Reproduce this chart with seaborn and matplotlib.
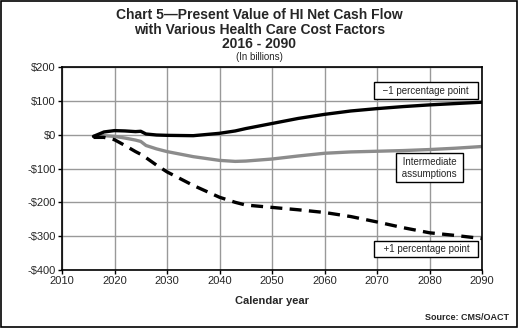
import matplotlib
matplotlib.use("Agg")
import matplotlib.pyplot as plt
import seaborn as sns
import pandas as pd
from matplotlib.patches import Rectangle

years = [2016, 2018, 2020, 2022, 2024, 2025, 2026, 2028, 2030, 2035, 2040, 2043, 2045,
         2050, 2055, 2060, 2065, 2070, 2075, 2080, 2085, 2090]
minus_one = [-5, 8, 12, 11, 9, 10, 2, -1, -2, -3, 4, 11, 18, 33, 48, 60, 70, 77, 83, 88, 92, 96]
intermediate = [-5, -3, -5, -10, -16, -20, -32, -42, -50, -65, -76, -79, -78, -72, -63, -55,
                -51, -49, -47, -44, -40, -35]
plus_one = [-8, -8, -15, -32, -50, -58, -68, -90, -110, -150, -185, -200, -208, -215, -222,
            -230, -242, -258, -275, -290, -298, -307]

x_ticks = [2010, 2020, 2030, 2040, 2050, 2060, 2070, 2080, 2090]
y_ticks = [200, 100, 0, -100, -200, -300, -400]
y_tick_labels = ["$200", "$100", "$0", "-$100", "-$200", "-$300", "-$400"]

sns.set_style("white")
plt.rcParams["font.family"] = ["Liberation Sans", "DejaVu Sans"]

fig = plt.figure(figsize=(5.19, 3.28), dpi=100)
ax = fig.add_axes([62/519, 58/328, 420/519, 203/328])

df = pd.DataFrame({"year": years, "m1": minus_one, "mid": intermediate, "p1": plus_one})
sns.lineplot(data=df, x="year", y="mid", ax=ax, color="#8c8c8c", lw=2.4)
sns.lineplot(data=df, x="year", y="p1", ax=ax, color="black", lw=2.4)
ax.lines[-1].set_dashes((3.6, 2.2))
sns.lineplot(data=df, x="year", y="m1", ax=ax, color="black", lw=2.4)

ax.set_xlim(2010, 2090)
ax.set_ylim(-400, 200)
ax.set_xticks(x_ticks)
ax.set_yticks(y_ticks)
ax.set_yticklabels(y_tick_labels)
ax.tick_params(axis="both", labelsize=8, length=3, width=1, color="black", direction="out",
               bottom=True, left=True, pad=1.5)
ax.grid(True, color="#999999", lw=1)
for s in ax.spines.values():
    s.set_color("black")
    s.set_linewidth(1.2)
ax.set_xlabel("")
ax.set_ylabel("")

bbox = dict(boxstyle="square,pad=0.35", fc="white", ec="black", lw=1)
ax.text(2079.3, 130, "  \u22121 percentage point  ", fontsize=7, ha="center", va="center", bbox=bbox)
ax.text(2080, -98, " Intermediate \n assumptions ", fontsize=7, ha="center", va="center",
        bbox=bbox, linespacing=1.25)
ax.text(2079.4, -338, "  +1 percentage point  ", fontsize=7, ha="center", va="center", bbox=bbox)

fig.text(0.5, 1 - 15/328, "Chart 5\u2014Present Value of HI Net Cash Flow", ha="center", va="center",
         fontsize=10, fontweight="bold")
fig.text(0.5, 1 - 30/328, "with Various Health Care Cost Factors", ha="center", va="center",
         fontsize=10, fontweight="bold")
fig.text(0.5, 1 - 44/328, "2016 - 2090", ha="center", va="center", fontsize=10, fontweight="bold")
fig.text(0.5, 1 - 57/328, "(In billions)", ha="center", va="center", fontsize=7)
fig.text(272/519, 1 - 301/328, "Calendar year", ha="center", va="center", fontsize=8,
         fontweight="bold")
fig.text(509/519, 1 - 318/328, "Source: CMS/OACT", ha="right", va="center", fontsize=6.5,
         fontweight="bold")

fig.add_artist(Rectangle((0.002, 0.003), 0.994, 0.994, transform=fig.transFigure, fill=False,
                         ec="black", lw=1.2))

fig.savefig("out.png", dpi=100)
